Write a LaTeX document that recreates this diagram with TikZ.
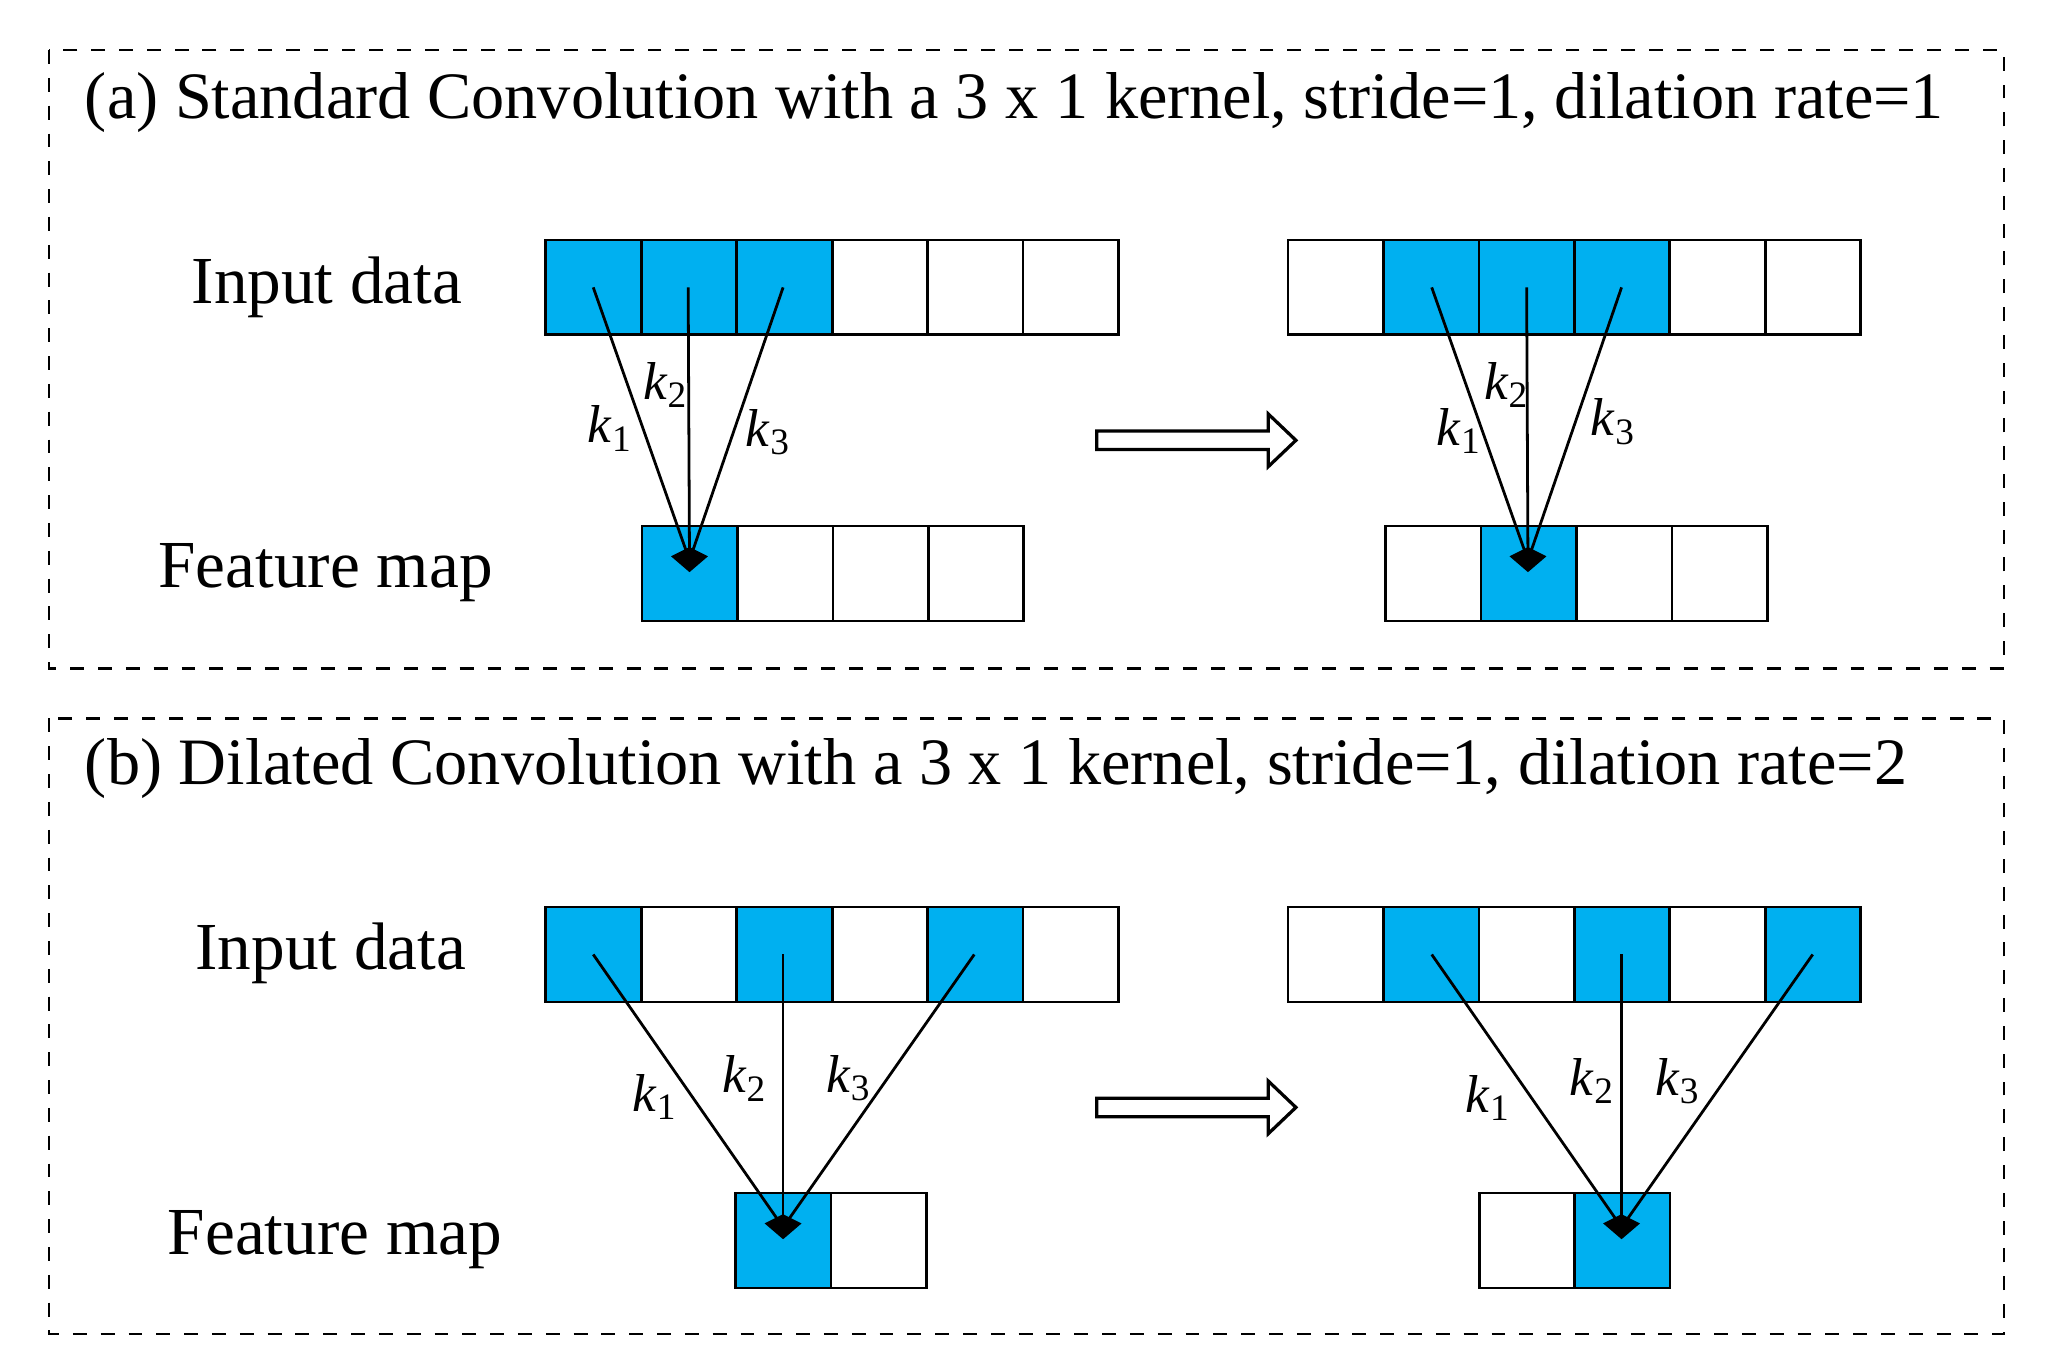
\documentclass[tikz,border=0pt]{standalone}
\usepackage{fontspec}
\setmainfont{Liberation Serif}
\definecolor{cy}{HTML}{00B0F0}
\begin{document}
\begin{tikzpicture}[x=0.01cm,y=-0.01cm,
  cell/.style={draw,line width=0.6pt},
  frame/.style={draw,dashed,line width=0.5pt},
  ttl/.style={font=\fontsize{14.3}{17}\selectfont,anchor=west},
  lab/.style={font=\fontsize{14.5}{17}\selectfont},
  kl/.style={font=\fontsize{11.5}{13}\selectfont},
  ln/.style={line width=0.6pt},
  hol/.style={draw,line width=0.7pt,fill=white}]
\useasboundingbox (0,0) rectangle (1555,1031);
\draw[frame] (37,38) rectangle (1520,507);
\draw[frame] (37,545) rectangle (1520,1012);
\node[ttl] (ta) at (52,78) {(a) Standard Convolution with a 3 x 1 kernel, stride=1, dilation rate=1};
\node[ttl] (tb) at (52,583) {(b) Dilated Convolution with a 3 x 1 kernel, stride=1, dilation rate=2};
\node[lab] (ia) at (248,218) {Input data};
\node[lab] (fa) at (247,434) {Feature map};
\node[lab] (ib) at (251,723) {Input data};
\node[lab] (fb) at (254,940) {Feature map};
\newcommand{\cellrow}[4]{%
  \foreach \i in {1,...,#3}{
    \pgfmathsetmacro{\xa}{#1+(\i-1)*72.4}
    \pgfmathsetmacro{\xb}{#1+\i*72.4}
    \def\fc{white}
    \foreach \c in {#4}{\ifnum\c=\i \xdef\fc{cy}\fi}
    \draw[cell,fill=\fc] (\xa,#2) rectangle (\xb,#2+72);
    \gdef\fc{white}
  }}
\newcommand{\kk}[1]{\textit{k}\textsubscript{#1}}
\cellrow{414}{182}{6}{1,2,3}
\cellrow{977}{182}{6}{2,3,4}
\cellrow{487}{399}{4}{1}
\cellrow{1051}{399}{4}{2}
\cellrow{414}{688}{6}{1,3,5}
\cellrow{977}{688}{6}{2,4,6}
\cellrow{558}{905}{2}{1}
\cellrow{1122}{905}{2}{2}
\newcommand{\kite}[2]{\fill (#1-14,#2-3) -- (#1,#2-10) -- (#1+14,#2-3) -- (#1,#2+9) -- cycle;}
\coordinate (pa1) at (523,425);
\draw[ln] (450,218) -- (pa1); \draw[ln] (522,218) -- (pa1); \draw[ln] (594,218) -- (pa1);
\kite{523}{425}
\node[kl] at (463,325) {\kk1}; \node[kl] at (505,292) {\kk2}; \node[kl] at (583,328) {\kk3};
\coordinate (pa2) at (1159,425);
\draw[ln] (1086,218) -- (pa2); \draw[ln] (1158,218) -- (pa2); \draw[ln] (1230,218) -- (pa2);
\kite{1159}{425}
\node[kl] at (1107,327) {\kk1}; \node[kl] at (1143,292) {\kk2}; \node[kl] at (1224,320) {\kk3};
\coordinate (pb1) at (594,931);
\draw[ln] (450,724) -- (pb1); \draw[ln] (594,724) -- (pb1); \draw[ln] (739,724) -- (pb1);
\kite{594}{931}
\node[kl] at (497,832) {\kk1}; \node[kl] at (565,818) {\kk2}; \node[kl] at (644,818) {\kk3};
\coordinate (pb2) at (1230,931);
\draw[ln] (1086,724) -- (pb2); \draw[ln] (1230,724) -- (pb2); \draw[ln] (1375,724) -- (pb2);
\kite{1230}{931}
\node[kl] at (1129,833) {\kk1}; \node[kl] at (1208,820) {\kk2}; \node[kl] at (1273,820) {\kk3};
\foreach \yy in {334,840}{
  \draw[hol] (832,\yy-7) -- (962,\yy-7) -- (962,\yy-20) -- (983,\yy) -- (962,\yy+20) -- (962,\yy+7) -- (832,\yy+7) -- cycle;}
\end{tikzpicture}
\end{document}
